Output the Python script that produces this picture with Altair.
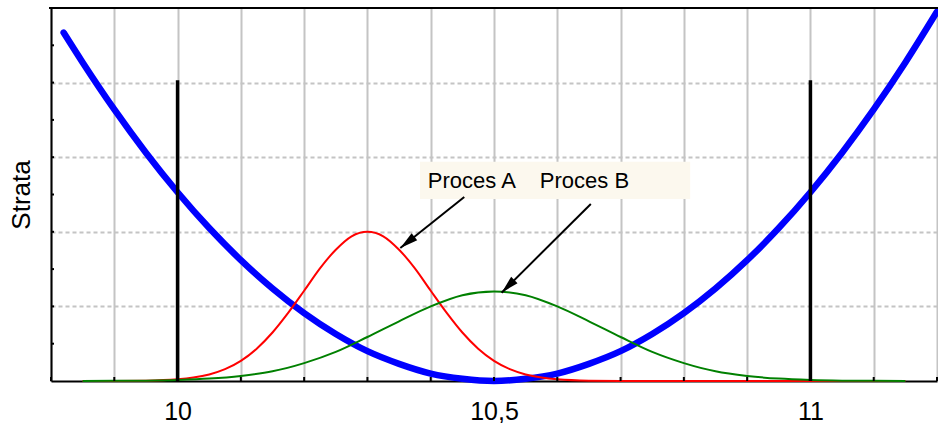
import altair as alt
import pandas as pd

# ---------------- data ----------------
blue_x = [9.82, 9.85, 9.9, 9.95, 10.0, 10.05, 10.1, 10.15, 10.2, 10.25, 10.3, 10.35, 10.4, 10.45,
          10.5, 10.55, 10.6, 10.65, 10.7, 10.75, 10.8, 10.85, 10.9, 10.95, 11.0, 11.05, 11.1, 11.15, 11.2]
blue_y = [4.67, 4.27, 3.64, 3.06, 2.53, 2.05, 1.62, 1.24, 0.91, 0.63, 0.40, 0.23, 0.10, 0.03,
          0.0, 0.03, 0.10, 0.23, 0.40, 0.63, 0.91, 1.24, 1.62, 2.05, 2.53, 3.06, 3.64, 4.27, 4.95]

red_x = [9.85, 9.9, 9.95, 10.0, 10.025, 10.05, 10.075, 10.1, 10.125, 10.15, 10.175, 10.2, 10.225,
         10.25, 10.275, 10.3, 10.325, 10.35, 10.375, 10.4, 10.425, 10.45, 10.475, 10.5, 10.525,
         10.55, 10.575, 10.6, 10.65, 10.7, 10.75, 10.8, 10.9, 11.0, 11.1, 11.15]
red_y = [0.0, 0.001, 0.004, 0.022, 0.046, 0.088, 0.159, 0.27, 0.433, 0.65, 0.916, 1.21, 1.51,
         1.76, 1.94, 2.0, 1.94, 1.76, 1.51, 1.21, 0.916, 0.65, 0.433, 0.27, 0.159,
         0.088, 0.046, 0.022, 0.004, 0.001, 0.0, 0.0, 0.0, 0.0, 0.0, 0.0]

green_x = [9.85, 9.9, 9.95, 10.0, 10.05, 10.1, 10.15, 10.2, 10.25, 10.3, 10.35, 10.4, 10.45, 10.5,
           10.55, 10.6, 10.65, 10.7, 10.75, 10.8, 10.85, 10.9, 10.95, 11.0, 11.05, 11.1, 11.15]
green_y = [0.001, 0.002, 0.005, 0.014, 0.032, 0.068, 0.13, 0.24, 0.39, 0.59, 0.80, 1.00, 1.15, 1.20,
           1.15, 1.00, 0.80, 0.59, 0.39, 0.24, 0.13, 0.068, 0.032, 0.014, 0.005, 0.002, 0.001]

limit_x = [10.0, 11.0]
limit_top = [4.03, 4.03]

grid_x = [9.8, 9.9, 10.0, 10.1, 10.2, 10.3, 10.4, 10.5, 10.6, 10.7, 10.8, 10.9, 11.0, 11.1, 11.2]
label_x = [10, 10.5, 11]
ygrid_vals = [1, 2, 3, 4]
ytick_vals = [0.5, 1, 1.5, 2, 2.5, 3, 3.5, 4, 4.5]
y_title = "Strata"

box_x = [10.383]
box_x2 = [10.81]
box_y = [2.44]
box_y2 = [2.94]

ann_text = ["Proces A", "Proces B"]
ann_x = [10.465, 10.643]
ann_y = [2.583, 2.583]

arrow_x0 = [10.453, 10.653]
arrow_y0 = [2.467, 2.373]
arrow_x1 = [10.352, 10.512]
arrow_y1 = [1.783, 1.184]
arrow_angle = [231.5, 225.1]

# ---------------- chart ----------------
FONT = "Liberation Sans"
W, H = 886, 373
xs = alt.Scale(domain=[9.8, 11.2], nice=False, zero=False)
ys = alt.Scale(domain=[0, 5], nice=False, zero=True)

label_expr = (f"indexof({label_x}, datum.value) >= 0 ? "
              "replace(format(datum.value, '~g'), '.', ',') : ''")

x_axis = alt.Axis(values=grid_x, grid=True, gridColor="#c4c4c4", gridWidth=2,
                  domainColor="black", domainWidth=2, ticks=False, tickSize=0,
                  labelExpr=label_expr, labelFont=FONT, labelFontSize=25, labelColor="black",
                  labelPadding=18, labelOverlap=False, title="")
y_axis = alt.Axis(values=ygrid_vals, grid=True, gridColor="#c4c4c4", gridWidth=2,
                  gridDash=[4, 3], domainColor="black", domainWidth=2, ticks=False, tickSize=0,
                  labels=False, title=y_title, titleFont=FONT, titleFontSize=26,
                  titleFontWeight="normal", titleColor="black", titlePadding=17)


def X(field):
    return alt.X(field, scale=xs, axis=x_axis, title="")


def Y(field):
    return alt.Y(field, scale=ys, axis=y_axis, title=y_title)


blue_df = pd.DataFrame({"x": blue_x, "y": blue_y})
red_df = pd.DataFrame({"x": red_x, "y": red_y})
green_df = pd.DataFrame({"x": green_x, "y": green_y})
limit_df = pd.DataFrame({"x": limit_x, "y": [0] * len(limit_x), "y2": limit_top})
box_df = pd.DataFrame({"x": box_x, "x2": box_x2, "y": box_y, "y2": box_y2})
ann_df = pd.DataFrame({"t": ann_text, "x": ann_x, "y": ann_y})
xtick_df = pd.DataFrame({"x": grid_x})
ytick_df = pd.DataFrame({"y": ytick_vals})
frame_df = pd.DataFrame({"k": [0]})

box = alt.Chart(box_df).mark_rect(color="#fcf8ee").encode(
    x=X("x:Q"), x2="x2:Q", y=Y("y:Q"), y2="y2:Q",
)

texts = alt.Chart(ann_df).mark_text(font=FONT, fontSize=22, color="black",
                                    align="center", baseline="alphabetic").encode(
    x=X("x:Q"), y=Y("y:Q"), text="t:N",
)

blue = alt.Chart(blue_df).mark_line(color="#0000ff", strokeWidth=6.5, strokeCap="round",
                                    interpolate="monotone", clip=False).encode(
    x=X("x:Q"), y=Y("y:Q"),
)
red = alt.Chart(red_df).mark_line(color="#ff0000", strokeWidth=2, interpolate="monotone").encode(
    x=X("x:Q"), y=Y("y:Q"),
)
green = alt.Chart(green_df).mark_line(color="#008000", strokeWidth=2, interpolate="monotone").encode(
    x=X("x:Q"), y=Y("y:Q"),
)

limits = alt.Chart(limit_df).mark_rule(color="black", strokeWidth=3.5).encode(
    x=X("x:Q"), y=Y("y:Q"), y2="y2:Q",
)

xticks = alt.Chart(xtick_df).mark_rule(color="black", strokeWidth=2).encode(
    x=X("x:Q"), y=alt.value(H), y2=alt.value(H - 4),
)
yticks = alt.Chart(ytick_df).mark_rule(color="black", strokeWidth=2).encode(
    y=Y("y:Q"), x=alt.value(0), x2=alt.value(3),
)
top_frame = alt.Chart(frame_df).mark_rule(color="black", strokeWidth=2).encode(
    y=alt.value(0), x=alt.value(-2), x2=alt.value(W + 1),
)

arrow_layers = []
for i in range(len(arrow_x0)):
    adf = pd.DataFrame({"x": [arrow_x0[i]], "y": [arrow_y0[i]],
                        "x2": [arrow_x1[i]], "y2": [arrow_y1[i]]})
    arrow_layers.append(
        alt.Chart(adf).mark_rule(color="black", strokeWidth=2).encode(
            x=X("x:Q"), y=Y("y:Q"), x2="x2:Q", y2="y2:Q",
        )
    )
    arrow_layers.append(
        alt.Chart(adf).mark_point(shape="M0,0 L0.5,2 L-0.5,2 Z", filled=True, color="black",
                                  opacity=1, size=324, strokeWidth=0).encode(
            x=X("x2:Q"), y=Y("y2:Q"), angle=alt.value(arrow_angle[i]),
        )
    )

chart = alt.layer(
    box, texts, blue, red, green, limits, xticks, yticks, top_frame, *arrow_layers
).properties(
    width=W,
    height=H,
    autosize=alt.AutoSizeParams(type="none"),
    padding={"left": 51, "top": 8, "right": 1, "bottom": 42},
    background="white",
).configure_view(stroke="transparent")

chart.save("out.html", embed_options={"renderer": "svg", "actions": False})
